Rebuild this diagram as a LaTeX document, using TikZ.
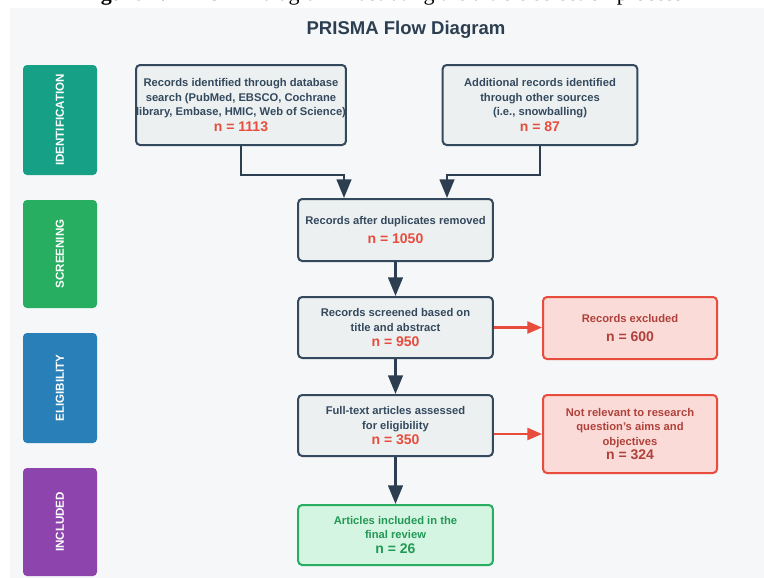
\documentclass[tikz,border=0pt]{standalone}
\usepackage{fontspec}
\setmainfont{Liberation Sans}
\newfontfamily\capfont{Liberation Serif}
\usetikzlibrary{arrows.meta}
\definecolor{bgpanel}{HTML}{F5F7F9}
\definecolor{darkc}{HTML}{34495E}
\definecolor{darkarrow}{HTML}{2C3E50}
\definecolor{boxfill}{HTML}{ECF0F1}
\definecolor{redc}{HTML}{E74C3C}
\definecolor{redfill}{HTML}{FADBD8}
\definecolor{redtext}{HTML}{B0413A}
\definecolor{greenc}{HTML}{27AE60}
\definecolor{greenfill}{HTML}{D5F5E3}
\definecolor{greentext}{HTML}{229954}
\definecolor{stageA}{HTML}{16A085}
\definecolor{stageB}{HTML}{27AE60}
\definecolor{stageC}{HTML}{2980B9}
\definecolor{stageD}{HTML}{8E44AD}
\tikzset{
  mainbox/.style={draw=darkc, fill=boxfill, line width=1.5pt, rounded corners=3pt,
    align=center, text=darkc, inner sep=0pt,
    font=\fontsize{8.4}{10.9}\selectfont\bfseries},
  redbox/.style={mainbox, draw=redc, fill=redfill, text=redtext},
  greenbox/.style={mainbox, draw=greenc, fill=greenfill, text=greentext},
  stagebox/.style={rotate=90, rounded corners=3pt, text=white, inner sep=0pt,
    minimum width=82.5pt, minimum height=55.5pt,
    font=\fontsize{8.7}{10}\selectfont\bfseries},
  arr/.style={draw=darkarrow, line width=1.8pt, -{Triangle[length=14pt,width=11pt]}},
  redarr/.style={draw=redc, line width=1.8pt, -{Triangle[length=11pt,width=9pt]}},
}
\newcommand{\nval}[1]{{\fontsize{10.5}{12}\selectfont\color{redc}#1}}
\newcommand{\nvalg}[1]{{\fontsize{10.5}{12}\selectfont\color{greentext}#1}}
\newcommand{\nvalr}[1]{{\fontsize{10.5}{12}\selectfont\color{redtext}#1}}
\begin{document}
\begin{tikzpicture}[x=0.75pt,y=-0.75pt]
\useasboundingbox (0,0) rectangle (764,578);
\fill[bgpanel] (10,8) rectangle (764,578);
\node[anchor=base, font=\capfont\fontsize{16.5}{18}\selectfont] (cap) at (382,0.8)
  {\textbf{Figure 1:} PRISMA diagram illustrating the article selection process};
\node[font=\fontsize{13.9}{16}\selectfont\bfseries, text=darkarrow] (title) at (406,30) {PRISMA Flow Diagram};

% stage labels
\node[stagebox, fill=stageA] (s1) at (60,120) {IDENTIFICATION};
\node[stagebox, fill=stageB, minimum width=81pt] (s2) at (60,254) {SCREENING};
\node[stagebox, fill=stageC] (s3) at (60,388) {ELIGIBILITY};
\node[stagebox, fill=stageD, minimum width=81pt] (s4) at (60,522) {INCLUDED};

% main boxes
\node[mainbox, minimum width=147pt, minimum height=60pt] (A) at (241,105)
  {Records identified through database\\search (PubMed, EBSCO, Cochrane\\library, Embase, HMIC, Web of Science)\\[1pt]\nval{n = 1113}};
\node[mainbox, minimum width=146pt, minimum height=60pt] (B) at (540,105)
  {Additional records identified\\through other sources\\(i.e., snowballing)\\[1pt]\nval{n = 87}};
\node[mainbox, minimum width=146pt, minimum height=46.5pt] (C) at (395.5,230)
  {Records after duplicates removed\\[3pt]\nval{n = 1050}};
\node[mainbox, minimum width=146pt, minimum height=45.75pt] (D) at (395.5,327.5)
  {Records screened based on\\title and abstract\\\nval{n = 950}};
\node[mainbox, minimum width=146pt, minimum height=45.75pt] (E) at (395.5,425.5)
  {Full-text articles assessed\\for eligibility\\\nval{n = 350}};
\node[greenbox, minimum width=146pt, minimum height=45pt] (F) at (395.5,535)
  {Articles included in the\\final review\\\nvalg{n = 26}};
\node[redbox, minimum width=130.5pt, minimum height=46.5pt] (G) at (630,328)
  {Records excluded\\[3pt]\nvalr{n = 600}};
\node[redbox, minimum width=130.5pt, minimum height=58.5pt] (H) at (630,434)
  {Not relevant to research\\question's aims and\\objectives\\\nvalr{n = 324}};

% connectors
\coordinate (ja) at (344,175);
\coordinate (jb) at (447,175);
\draw[arr] (A.south) |- (ja) -- (ja |- C.north);
\draw[arr] (B.south) |- (jb) -- (jb |- C.north);
\draw[arr] (C) -- (D);
\draw[arr] (D) -- (E);
\draw[arr] (E) -- (F);
\draw[redarr] (D.east) -- (D.east -| G.west);
\draw[redarr] (E.east |- H.west) -- (H.west);
\end{tikzpicture}
\end{document}
